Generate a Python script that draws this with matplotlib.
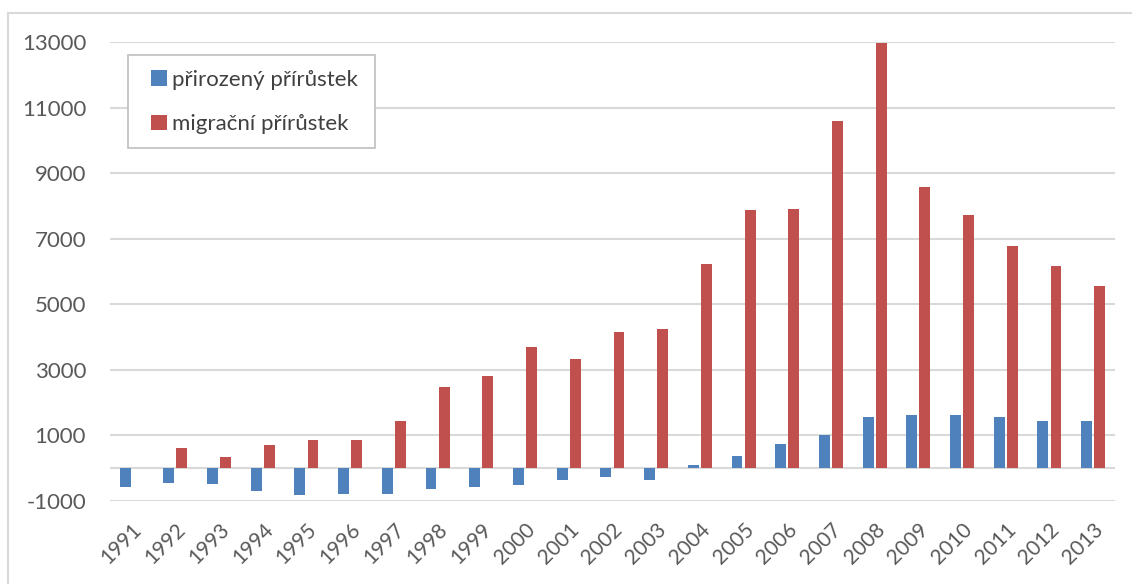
import numpy as np
import matplotlib
matplotlib.use("Agg")
import matplotlib.pyplot as plt
from matplotlib.patches import Rectangle

roky = [str(r) for r in range(1991, 2014)]
prirozeny = [-560, -460, -475, -690, -810, -795, -775, -640, -580, -510, -345,
             -265, -345, 105, 360, 745, 1015, 1570, 1615, 1635, 1550, 1445, 1445]
migracni = [0, 610, 330, 695, 870, 870, 1450, 2470, 2800, 3685, 3320,
            4145, 4245, 6235, 7880, 7915, 10590, 12960, 8570, 7735, 6765, 6155, 5545]
y_ticky = [-1000, 1000, 3000, 5000, 7000, 9000, 11000, 13000]

plt.rcParams["font.family"] = ["Lato", "DejaVu Sans"]

W, H = 1132, 584
fig = plt.figure(figsize=(W / 100, H / 100), dpi=100)
ax = fig.add_axes([0.097, 0.142, 0.888, 0.786])

x = np.arange(len(roky))
sirka = 0.25
ax.bar(x - 0.15, prirozeny, sirka, color="#4F81BD", label="přirozený přírůstek", zorder=3)
ax.bar(x + 0.15, migracni, sirka, color="#C0504D", label="migrační přírůstek", zorder=3)

ax.set_ylim(-1000, 13000)
ax.set_xlim(-0.5, len(roky) - 0.5)
ax.set_yticks(y_ticky)
ax.set_yticklabels([str(v) for v in y_ticky])
for v in y_ticky:
    ax.axhline(v, color="#d9d9d9", lw=1.5, zorder=1)
ax.axhline(0, color="#d9d9d9", lw=1.5, zorder=2)

ax.set_xticks(x)
ax.set_xticklabels(roky, rotation=45, ha="right", rotation_mode="anchor")
ax.tick_params(axis="x", length=0, pad=13, labelsize=15, labelcolor="#595959")
ax.tick_params(axis="y", length=0, pad=17, labelsize=16, labelcolor="#595959")
for s in ax.spines.values():
    s.set_visible(False)

# legenda bez ramecku, ramecek se kresli zvlast (Excel ma vetsi vodorovny okraj)
leg = fig.legend(*ax.get_legend_handles_labels(), loc="upper left",
                 bbox_to_anchor=(151 / W, 1 - 69.5 / H), fontsize=16,
                 frameon=False, labelspacing=1.12,
                 handlelength=0.7, handleheight=0.7, handletextpad=0.25,
                 borderpad=0, borderaxespad=0)
for t in leg.get_texts():
    t.set_color("#404040")
fig.patches.append(Rectangle((128 / W, 1 - 148 / H), 247 / W, 93 / H,
                             transform=fig.transFigure, facecolor="white",
                             edgecolor="#bfbfbf", lw=1.2, zorder=5))
leg.set_zorder(6)

# vnejsi ramecek grafu
fig.patches.append(Rectangle((8 / W, -0.1), 1.2, 1 - 13 / H + 0.1,
                             transform=fig.transFigure, fill=False,
                             edgecolor="#d9d9d9", lw=1.5))

fig.savefig("out.png", dpi=100)
